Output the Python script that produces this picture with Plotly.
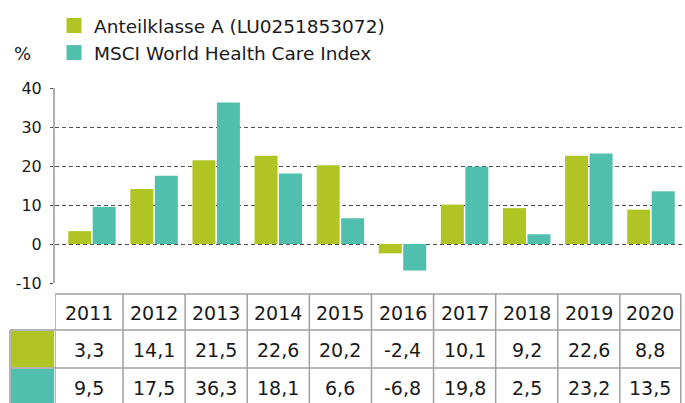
import plotly.graph_objects as go

years = ["2011", "2012", "2013", "2014", "2015", "2016", "2017", "2018", "2019", "2020"]
fund_name = "Anteilklasse A (LU0251853072)"
index_name = "MSCI World Health Care Index"
fund_values = [3.3, 14.1, 21.5, 22.6, 20.2, -2.4, 10.1, 9.2, 22.6, 8.8]
index_values = [9.5, 17.5, 36.3, 18.1, 6.6, -6.8, 19.8, 2.5, 23.2, 13.5]
y_ticks = [-10, 0, 10, 20, 30, 40]
y_tick_labels = ["-10", "0", "10", "20", "30", "40"]

GREEN = "#B0C424"
TEAL = "#50BFAE"
FONT = "DejaVu Sans"
TXT = "#1a1a1a"
BORDER = "#a0a0a0"

W, H = 685, 403
ML, MR, MT, MB = 55, 3, 88, 120
PH = H - MT - MB
PW = W - ML - MR


def py(Y):
    return (H - MB - Y) / PH


def px(X):
    return (X - ML) / PW


XMIN, XMAX = -0.595, 9.5
fig = go.Figure()
for name, vals, col in [(fund_name, fund_values, GREEN), (index_name, index_values, TEAL)]:
    fig.add_trace(go.Bar(x=years, y=vals, name=name, marker_color=col,
                         marker_line_width=0, showlegend=False, legendgroup=name))
for name, col in [(fund_name, GREEN), (index_name, TEAL)]:
    fig.add_trace(go.Scatter(x=[None], y=[None], mode="markers", name=name, legendgroup=name,
                             marker=dict(symbol="square", size=15, color=col, line=dict(width=0)),
                             showlegend=True))

shapes = []
annotations = []

n = len(years)
table_right = 9.48
bounds = [XMIN] + [i + 0.5 for i in range(n - 1)] + [table_right]
row_lines = [294, 330, 368, 406]

shapes.append(dict(type="line", xref="x", yref="paper", x0=XMIN, x1=table_right,
                   y0=py(row_lines[0]), y1=py(row_lines[0]), line=dict(color=BORDER, width=1.5)))
for Y in row_lines[1:3]:
    shapes.append(dict(type="line", xref="paper", yref="paper", x0=px(10), x1=px(681),
                       y0=py(Y), y1=py(Y), line=dict(color=BORDER, width=1.5)))
for b in bounds:
    shapes.append(dict(type="line", xref="x", yref="paper", x0=b, x1=b,
                       y0=py(row_lines[0]), y1=py(row_lines[3]), line=dict(color=BORDER, width=1.5)))
shapes.append(dict(type="line", xref="paper", yref="paper", x0=px(10), x1=px(10),
                   y0=py(row_lines[1]), y1=py(row_lines[3]), line=dict(color=BORDER, width=1.5)))
for (Y0, Y1, c) in [(row_lines[1], row_lines[2], GREEN), (row_lines[2], row_lines[3], TEAL)]:
    shapes.append(dict(type="rect", xref="paper", yref="paper", x0=px(10.8), x1=px(54.2),
                       y0=py(Y1 - 0.8), y1=py(Y0 + 0.8), fillcolor=c, line=dict(width=0), layer="below"))

centers = [(bounds[i] + bounds[i + 1]) / 2 for i in range(n)]
row_centers = [(row_lines[i] + row_lines[i + 1]) / 2 for i in range(3)]


def fmt(v):
    return f"{v:.1f}".replace(".", ",")


for i in range(n):
    for r, txt in enumerate([years[i], fmt(fund_values[i]), fmt(index_values[i])]):
        annotations.append(dict(xref="x", yref="paper", x=centers[i], y=py(row_centers[r] + 1),
                                text=txt, showarrow=False, xanchor="center", yanchor="middle",
                                font=dict(family=FONT, size=19, color=TXT)))

annotations.append(dict(xref="paper", yref="paper", x=px(12), y=py(54), text="%",
                        showarrow=False, xanchor="left", yanchor="middle",
                        font=dict(family=FONT, size=18, color=TXT)))

fig.update_layout(
    width=W, height=H,
    margin=dict(l=ML, r=MR, t=MT, b=MB, autoexpand=False),
    paper_bgcolor="white", plot_bgcolor="white",
    barmode="group", bargap=0.212, bargroupgap=0.06,
    showlegend=True,
    legend=dict(xref="container", yref="container", x=54 / W, y=1 - 7 / H,
                xanchor="left", yanchor="top", itemsizing="trace",
                font=dict(family=FONT, size=18.5, color=TXT),
                tracegroupgap=0, itemwidth=30, bgcolor="rgba(0,0,0,0)"),
    shapes=shapes, annotations=annotations,
    xaxis=dict(type="category", range=[XMIN, XMAX], showticklabels=False, showgrid=False,
               zeroline=False, showline=False, ticks="", automargin=False),
    yaxis=dict(range=[-10, 40], tickvals=y_ticks, ticktext=y_tick_labels, showgrid=True,
               gridcolor="#505050", griddash="4px,3px", gridwidth=1, zeroline=False,
               showline=True, linecolor="#b0b0b0", linewidth=2, ticks="outside", ticklen=3,
               tickcolor="#505050", tickwidth=1, automargin=False,
               tickfont=dict(family=FONT, size=16, color=TXT), ticklabelstandoff=5),
)

fig.write_html("out.html", config={"displayModeBar": False},
               post_script="document.body.style.margin='0';document.body.style.overflow='hidden';")
